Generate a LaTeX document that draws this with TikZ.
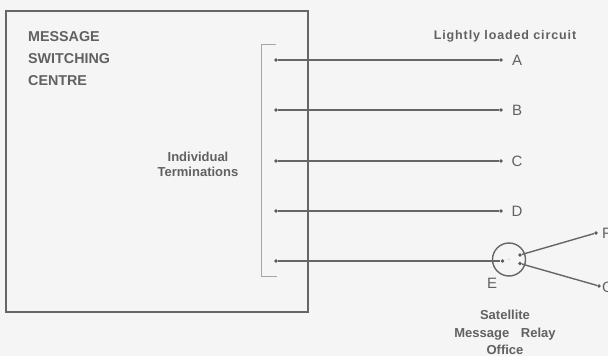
\documentclass[tikz,border=0pt]{standalone}
\usepackage{fontspec}
\setmainfont{Liberation Sans}
\newfontfamily\widefont[LetterSpace=7]{Liberation Sans}

\tikzstyle{wire} = [draw=black!60, line width=1.4pt]
\tikzstyle{term} = [circle, fill=black!65, inner sep=0pt, minimum size=3.8pt]
\tikzstyle{lbl} = [text=black!62, inner sep=0pt]

\begin{document}
\begin{tikzpicture}[x=1pt, y=-1pt]
	
	\useasboundingbox[fill=black!4] (0,0) rectangle (608,356);
	
	\draw[black!60, line width=1.8pt] (6,11) rectangle (308,312); % centre
	\draw[black!35, line width=0.9pt] (276,44) -- (261,44) -- (261,276) -- (277,276); % bracket
	
	\node[lbl, anchor=west, align=left, font=\fontsize{14.3}{22}\selectfont\bfseries] (msc) at (28,58.5) {MESSAGE\\SWITCHING\\CENTRE};
	\node[lbl, align=center, font=\fontsize{13}{15.5}\selectfont\bfseries] (indiv) at (198,164.5) {Individual\\Terminations};
	\node[lbl, font=\fontsize{12.5}{14}\widefont\bfseries] (light) at (505,36) {Lightly loaded circuit};
	
	% circuits A to D
	\foreach \n/\y in {A/60, B/110, C/161, D/211}{
		\node[term] (t\n) at (276,\y) {};
		\node[term] (e\n) at (501,\y) {};
		\node[lbl, font=\fontsize{15}{15}\selectfont] (l\n) at (517,\y) {\n};
		\draw[wire] (t\n) -- (e\n);
	}
	
	% relay office
	\node[draw=black!60, line width=1.4pt, circle, minimum size=33pt, inner sep=0pt] (relay) at (509,259.5) {};
	\node[circle, fill=black!30, inner sep=0pt, minimum size=1.2pt] (mid) at (relay.center) {};
	\node[term] (tE) at (276,261) {};
	\node[term] (eE) at (502.5,261) {};
	\draw[wire] (tE) -- (eE);
	\node[lbl, font=\fontsize{15}{15}\selectfont] (lE) at (492,283.5) {E};
	
	\node[term] (rF) at (520,255) {};
	\node[term] (rG) at (520,263.5) {};
	\node[term] (eF) at (596,233) {};
	\node[term] (eG) at (599,286) {};
	\draw[wire] (rF) -- (eF);
	\draw[wire] (rG) -- (eG);
	\node[lbl, anchor=west, font=\fontsize{15}{15}\selectfont] (lF) at (602,233) {F};
	\node[lbl, anchor=west, font=\fontsize{15}{15}\selectfont] (lG) at (602,287) {G};
	
	\node[lbl, align=center, font=\fontsize{13}{17.5}\selectfont\bfseries] (sat) at (505,332.5) {Satellite\\Message\hspace{0.9em}Relay\\Office};
	
\end{tikzpicture}
\end{document}
